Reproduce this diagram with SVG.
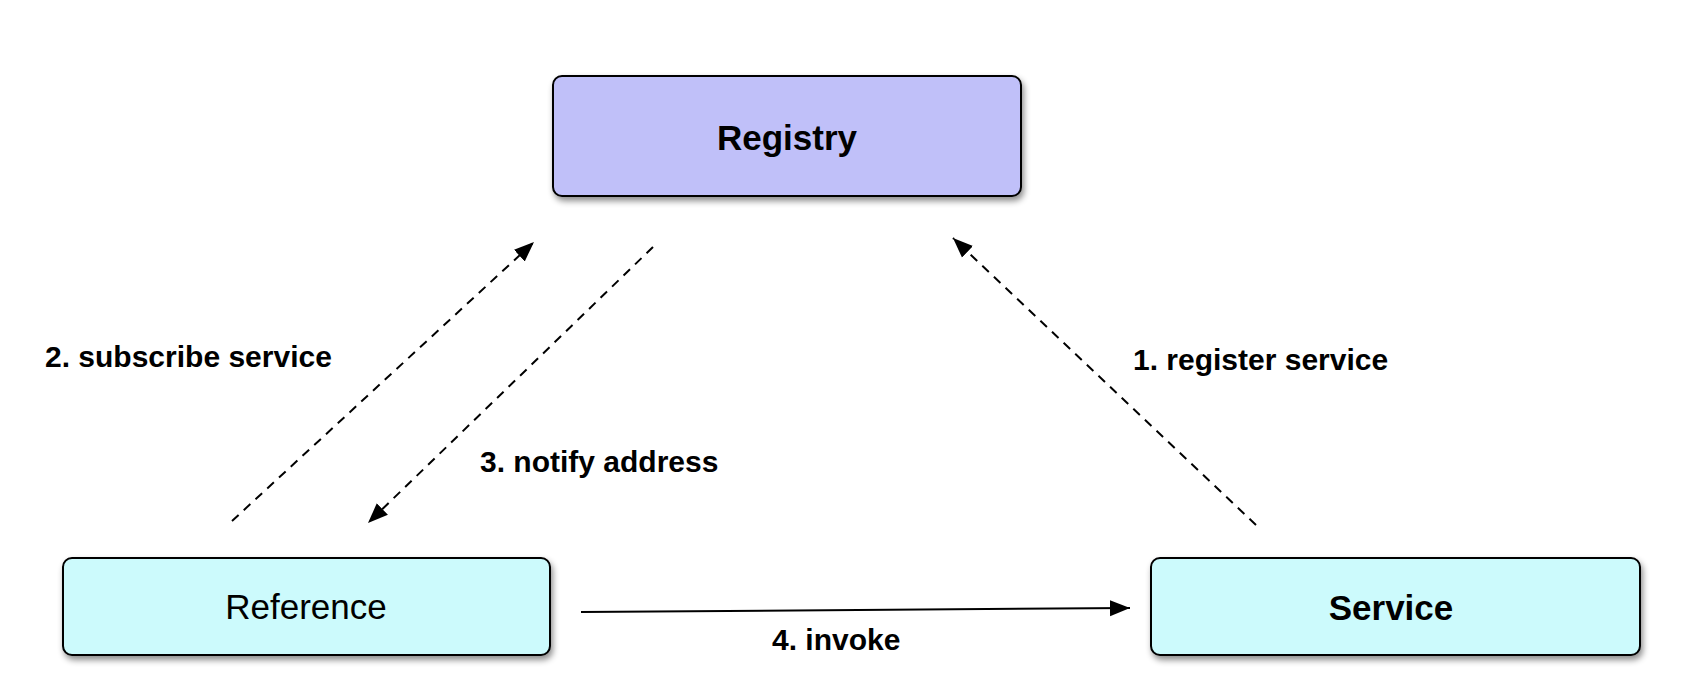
<svg xmlns="http://www.w3.org/2000/svg" width="1698" height="694" viewBox="0 0 1698 694">
  <style>
    .box { stroke: #000; stroke-width: 2; }
    .node-text { font-family: "Liberation Sans", Arial, Helvetica, sans-serif; font-size: 35px; fill: #000; text-anchor: middle; }
    .label { font-family: "Liberation Sans", Arial, Helvetica, sans-serif; font-size: 30px; font-weight: bold; fill: #000; }
    .dash { stroke: #000; stroke-width: 2; stroke-dasharray: 9 7; fill: none; }
    .solid { stroke: #000; stroke-width: 2; fill: none; }
  </style>
  <defs>
    <filter id="shadow" x="-10%" y="-20%" width="120%" height="150%">
      <feDropShadow dx="2" dy="4" stdDeviation="3" flood-color="#000" flood-opacity="0.45"/>
    </filter>
    <marker id="arrow" markerUnits="userSpaceOnUse" markerWidth="22" markerHeight="18" refX="20" refY="9" orient="auto">
      <path d="M0,1 L20,9 L0,17 Z" fill="#000"/>
    </marker>
  </defs>
  <rect width="1698" height="694" fill="#fff"/>

  <g id="registry">
    <rect class="box" x="553" y="76" width="468" height="120" rx="9" fill="#C0C0F9" filter="url(#shadow)"/>
    <text class="node-text" x="787" y="150" font-weight="bold">Registry</text>
  </g>
  <g id="reference">
    <rect class="box" x="63" y="558" width="487" height="97" rx="9" fill="#CCFAFC" filter="url(#shadow)"/>
    <text class="node-text" x="306" y="619" font-size="36">Reference</text>
  </g>
  <g id="service">
    <rect class="box" x="1151" y="558" width="489" height="97" rx="9" fill="#CCFAFC" filter="url(#shadow)"/>
    <text class="node-text" x="1391" y="620" font-weight="bold" font-size="36">Service</text>
  </g>

  <g id="connectors">
    <line class="dash" x1="232" y1="521" x2="534" y2="242" marker-end="url(#arrow)"/>
    <line class="dash" x1="653" y1="247" x2="368" y2="523" marker-end="url(#arrow)"/>
    <line class="dash" x1="1256" y1="525" x2="953" y2="238" marker-end="url(#arrow)"/>
    <line class="solid" x1="581" y1="612" x2="1130" y2="608" marker-end="url(#arrow)"/>
  </g>

  <g id="labels">
    <text class="label" x="45" y="367">2. subscribe service</text>
    <text class="label" x="480" y="472">3. notify address</text>
    <text class="label" x="1133" y="370">1. register service</text>
    <text class="label" x="772" y="650">4. invoke</text>
  </g>
</svg>
